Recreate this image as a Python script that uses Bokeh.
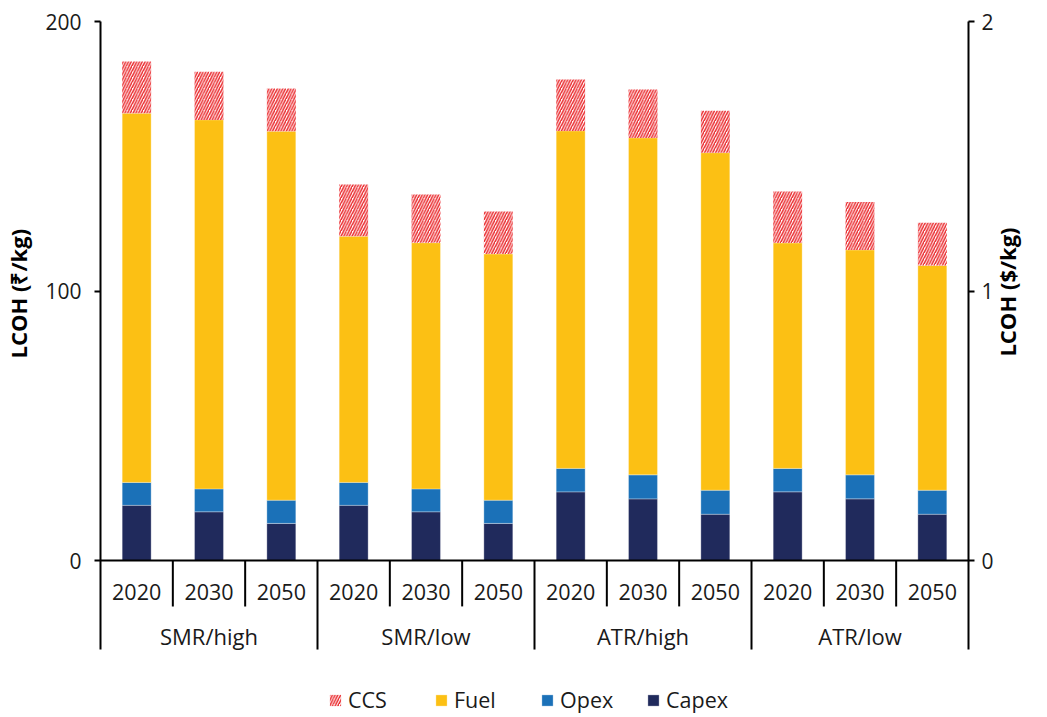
import math
import numpy as np
from bokeh.plotting import figure
from bokeh.models import (FactorRange, Range1d, LinearAxis, FixedTicker, Legend,
                          LegendItem, ColumnDataSource)
from bokeh.core.properties import value
from bokeh.embed import file_html
from bokeh.resources import INLINE

# ---- data ----
groups = ["SMR/high", "SMR/low", "ATR/high", "ATR/low"]
years = ["2020", "2030", "2050"]
capex = [20.5, 18.1, 13.8, 20.5, 18.1, 13.8, 25.5, 22.9, 17.2, 25.5, 22.9, 17.2]
opex = [8.5, 8.5, 8.6, 8.5, 8.5, 8.6, 8.7, 8.9, 8.9, 8.7, 8.9, 8.9]
fuel = [137.0, 136.9, 136.9, 91.3, 91.3, 91.3, 125.2, 125.0, 125.2, 83.6, 83.4, 83.4]
ccs = [19.2, 17.9, 15.8, 19.2, 17.9, 15.8, 19.1, 18.0, 15.6, 19.1, 17.8, 15.8]
series_names = ["Capex", "Opex", "Fuel", "CCS"]
left_ticks = [0, 100, 200]
right_ticks = [0, 1, 2]
left_title = "LCOH (₹/kg)"
right_title = "LCOH ($/kg)"

FONT = "Open Sans"
C_CAPEX = "#202a5c"
C_OPEX = "#1b71b8"
C_FUEL = "#fcc014"
C_CCS = "#ea2a2e"

factors = [(g, y) for g in groups for y in years]
vals = np.array([capex, opex, fuel, ccs])
tops = np.cumsum(vals, axis=0)
bottoms = tops - vals

src = ColumnDataSource(dict(
    x=factors,
    b0=bottoms[0], t0=tops[0],
    b1=bottoms[1], t1=tops[1],
    b2=bottoms[2], t2=tops[2],
    b3=bottoms[3], t3=tops[3],
))

Y_AX_BOTTOM = -33   # end of the category axis separators
Y_MIN = -57.1       # extra room for the legend inside the frame
p = figure(
    x_range=FactorRange(*factors, factor_padding=0, group_padding=0,
                        subgroup_padding=0, range_padding=0),
    y_range=Range1d(Y_MIN, 200),
    width=1039, height=714,
    output_backend="svg", toolbar_location=None,
    x_axis_location=None,
    min_border_left=98, min_border_right=64, min_border_top=21, min_border_bottom=0,
)
p.extra_y_ranges = {"usd": Range1d(Y_MIN / 100.0, 2.0)}
p.outline_line_color = None
p.grid.grid_line_color = None
p.background_fill_color = "white"
p.border_fill_color = "white"

W = 0.4
r_capex = p.vbar(x="x", bottom="b0", top="t0", width=W, source=src,
                 fill_color=C_CAPEX, line_color="white", line_width=0.6, line_alpha=0.5)
r_opex = p.vbar(x="x", bottom="b1", top="t1", width=W, source=src,
                fill_color=C_OPEX, line_color="white", line_width=0.6, line_alpha=0.5)
r_fuel = p.vbar(x="x", bottom="b2", top="t2", width=W, source=src,
                fill_color=C_FUEL, line_color="white", line_width=0.6, line_alpha=0.5)
r_ccs = p.vbar(x="x", bottom="b3", top="t3", width=W, source=src,
               fill_color="white", line_color=None,
               hatch_pattern="/", hatch_color=C_CCS, hatch_scale=5.5, hatch_weight=1.5)

# category axis (drawn in the lower part of the frame)
n = len(factors)
ny = len(years)
p.segment(x0=[0], y0=[0], x1=[n], y1=[0], line_color="black", line_width=2)
year_seps = [i for i in range(1, n) if i % ny != 0]
group_seps = [i for i in range(1, n) if i % ny == 0]
p.segment(x0=year_seps, y0=[0] * len(year_seps), x1=year_seps, y1=[-17] * len(year_seps),
          line_color="black", line_width=2)
p.segment(x0=group_seps, y0=[0] * len(group_seps), x1=group_seps,
          y1=[Y_AX_BOTTOM] * len(group_seps), line_color="black", line_width=2)
p.text(x=factors, y=[-11.5] * n, text=[f[1] for f in factors],
       text_font=value(FONT), text_font_size="21.5px", text_color="#1a1a1a",
       text_align="center", text_baseline="middle")
p.text(x=groups, y=[-27.8] * len(groups), text=groups,
       text_font=value(FONT), text_font_size="22px", text_color="#1a1a1a",
       text_align="center", text_baseline="middle")

# axes
ya = p.yaxis[0]
ya.ticker = FixedTicker(ticks=left_ticks)
ya.bounds = (Y_AX_BOTTOM, 200)
right = LinearAxis(y_range_name="usd", ticker=FixedTicker(ticks=right_ticks),
                   bounds=(Y_AX_BOTTOM / 100.0, 2.0))
p.add_layout(right, "right")
# the titles sit on the 0-200 span; the frame reaches lower (category labels and
# legend), so the titles are padded with no-break spaces at their start
ya.axis_label = "\u00a0" * 26 + left_title
right.axis_label = "\u00a0" * 2 + right_title
for ax in (ya, right):
    ax.axis_line_width = 2
    ax.axis_line_color = "black"
    ax.major_tick_line_width = 2
    ax.major_tick_out = 6
    ax.major_tick_in = 0
    ax.minor_tick_line_color = None
    ax.major_label_text_font = FONT
    ax.major_label_text_font_size = "21px"
    ax.major_label_text_color = "#1a1a1a"
    ax.axis_label_text_font = FONT
    ax.axis_label_text_font_size = "22px"
    ax.axis_label_text_font_style = "bold"
    ax.axis_label_text_color = "black"
ya.major_label_standoff = 13
right.major_label_standoff = 7
ya.axis_label_standoff = 9
right.axis_label_standoff = 10
right.axis_label_orientation = math.pi / 2

legend = Legend(
    items=[LegendItem(label="CCS", renderers=[r_ccs]),
           LegendItem(label="Fuel", renderers=[r_fuel]),
           LegendItem(label="Opex", renderers=[r_opex]),
           LegendItem(label="Capex", renderers=[r_capex])],
    orientation="horizontal", location=(228, 0),
    label_text_font=FONT, label_text_font_size="21.5px", label_text_color="#1a1a1a",
    glyph_width=14, glyph_height=14, label_width=86, label_standoff=6,
    spacing=0, padding=0, margin=0,
    border_line_color=None, background_fill_alpha=0,
)
p.add_layout(legend)

open("out.html", "w").write(file_html(p, INLINE))
